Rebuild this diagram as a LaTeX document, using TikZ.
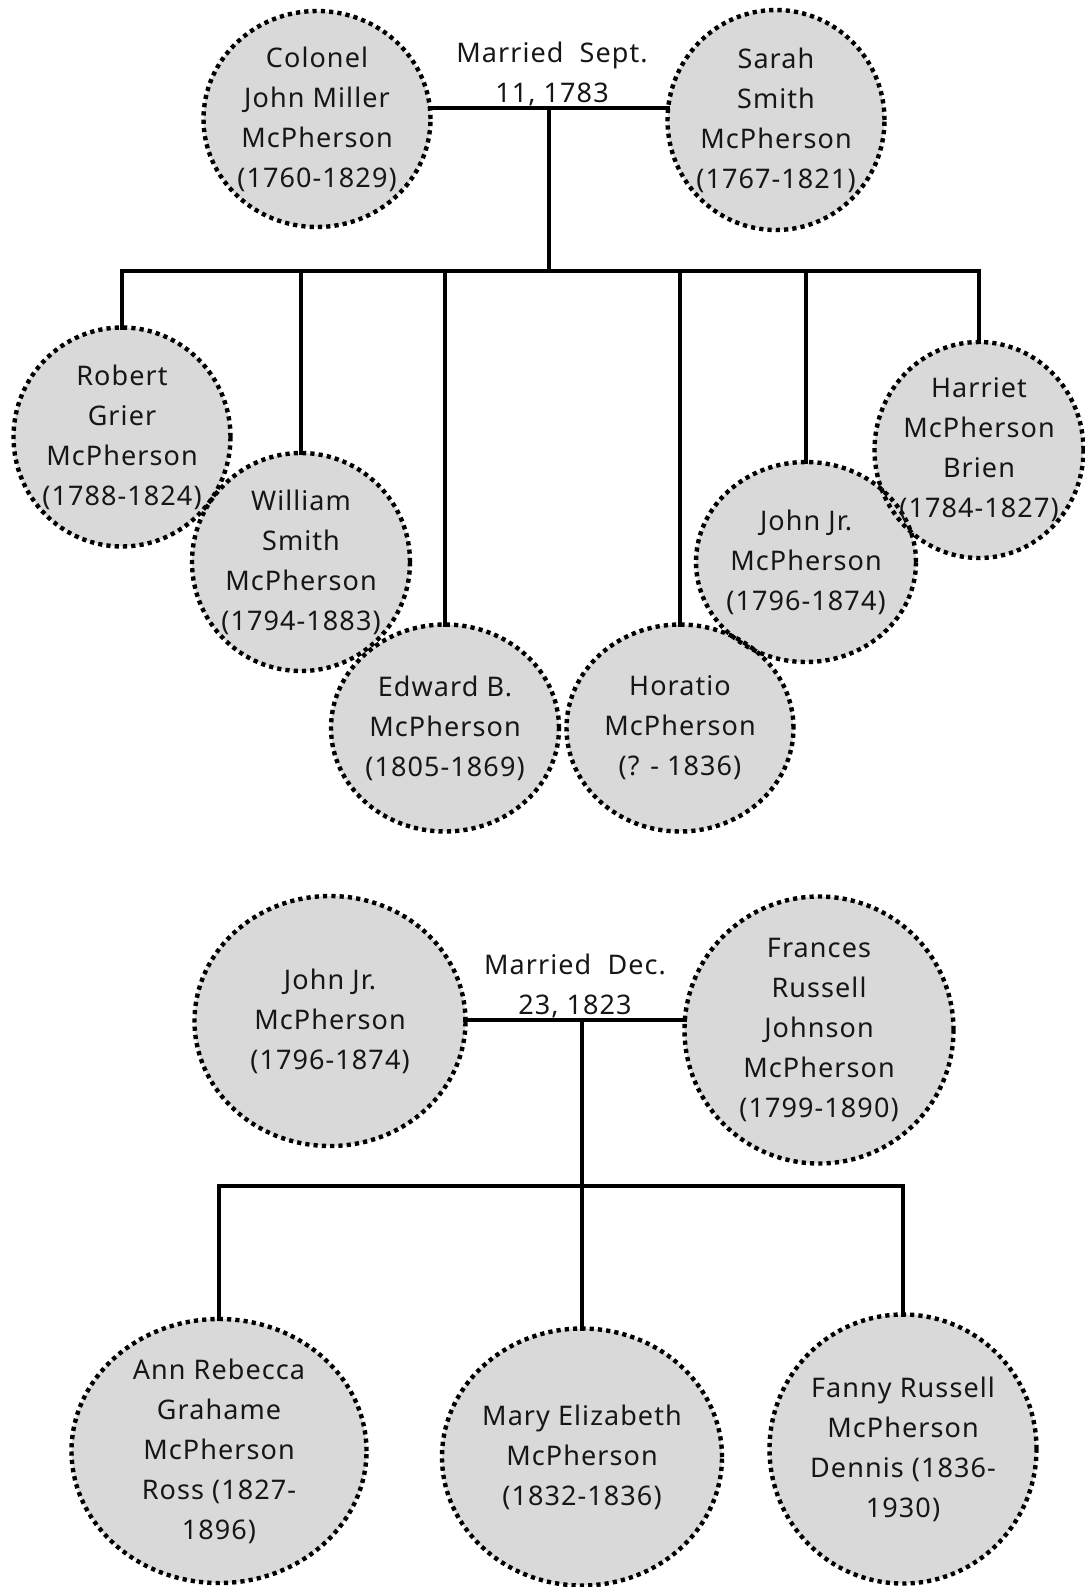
\documentclass[tikz,border=0pt]{standalone}
\usepackage{fontspec}
\setmainfont{Noto Sans}[LetterSpace=4]
\usetikzlibrary{shapes.geometric,positioning,calc,backgrounds}
\definecolor{discgray}{RGB}{217,217,217}
\definecolor{inkgray}{RGB}{22,22,22}

\begin{document}
\begin{tikzpicture}[x=1pt,y=-1pt,
    person/.style={ellipse,draw=black,line width=4.4pt,dash pattern=on 4.2pt off 4.1pt,
        text=inkgray,align=center,inner sep=-8pt,outer sep=0pt,
        font=\fontsize{27}{40}\selectfont},
    wed/.style={text=inkgray,align=center,inner sep=1pt,font=\fontsize{27}{40}\selectfont},
    link/.style={line width=4.2pt,line cap=rect}]
    \useasboundingbox (0,0) rectangle (1084,1587);

    % first family
    \node[person,minimum width=227pt,minimum height=216pt] (colonel) at (317,119) {Colonel\\John Miller\\McPherson\\(1760-1829)};
    \node[person,minimum width=217pt,minimum height=220pt] (sarah) at (776,120) {Sarah\\Smith\\McPherson\\(1767-1821)};
    \node[person,minimum width=217pt,minimum height=219pt] (robert) at (122,437) {Robert\\Grier\\McPherson\\(1788-1824)};
    \node[person,minimum width=218pt,minimum height=218pt] (william) at (301,562) {William\\Smith\\McPherson\\(1794-1883)};
    \node[person,minimum width=228pt,minimum height=207pt] (edward) at (445,728) {Edward B.\\McPherson\\(1805-1869)};
    \node[person,minimum width=227pt,minimum height=207pt] (horatio) at (680,728) {Horatio\\McPherson\\(? - 1836)};
    \node[person,minimum width=220pt,minimum height=200pt] (john) at (806,562) {John Jr.\\McPherson\\(1796-1874)};
    \node[person,minimum width=209pt,minimum height=216pt] (harriet) at (979,450) {Harriet\\McPherson\\Brien\\(1784-1827)};

    \coordinate (wedA) at (549,108);
    \coordinate (barA) at (549,271);
    \node[wed,above=1pt of wedA,xshift=3pt] (sept) {Married\ \ Sept.\\11, 1783};
    \draw[link] (colonel.east |- wedA) -- (sarah.west |- wedA);
    \draw[link] (wedA) -- (barA);
    \draw[link] (robert.north |- barA) -- (harriet.north |- barA);
    \foreach \who in {robert,william,edward,horatio,john,harriet}
        \draw[link] (\who.north |- barA) -- (\who.north);

    % second family
    \node[person,minimum width=271pt,minimum height=250pt] (johnjr) at (330,1021) {John Jr.\\McPherson\\(1796-1874)};
    \node[person,minimum width=269pt,minimum height=267pt] (frances) at (819,1030) {Frances\\Russell\\Johnson\\McPherson\\(1799-1890)};
    \node[person,minimum width=295pt,minimum height=264pt] (ann) at (219,1451) {Ann Rebecca\\Grahame\\McPherson\\Ross (1827-\\1896)};
    \node[person,minimum width=280pt,minimum height=257pt] (mary) at (582,1457) {Mary Elizabeth\\McPherson\\(1832-1836)};
    \node[person,minimum width=267pt,minimum height=269pt] (fanny) at (903,1449) {Fanny Russell\\McPherson\\Dennis (1836-\\1930)};

    \coordinate (wedB) at (582,1020);
    \coordinate (barB) at (582,1186);
    \node[wed,above=1pt of wedB,xshift=-7pt] (dec) {Married\ \ Dec.\\23, 1823};
    \draw[link] (johnjr.east |- wedB) -- (frances.west |- wedB);
    \draw[link] (wedB) -- (barB);
    \draw[link] (ann.north |- barB) -- (fanny.north |- barB);
    \foreach \who in {ann,mary,fanny}
        \draw[link] (\who.north |- barB) -- (\who.north);

    % grey discs behind the dotted rims
    \begin{scope}[on background layer]
        \foreach \who in {colonel,sarah,robert,william,edward,horatio,john,harriet,johnjr,frances,ann,mary,fanny}
            \fill[discgray] let \p1=($(\who.east)-(\who.center)$), \p2=($(\who.north)-(\who.center)$) in
                (\who.center) ellipse [x radius=\x1, y radius=\y2];
    \end{scope}
\end{tikzpicture}
\end{document}
